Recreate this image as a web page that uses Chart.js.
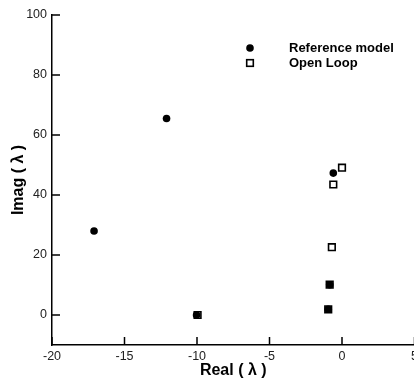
<!DOCTYPE html>
<html>
<head>
<meta charset="utf-8">
<script src="https://cdn.jsdelivr.net/npm/chart.js@4"></script>
<style>
  html, body { margin: 0; padding: 0; background: #fff; overflow: hidden; }
  #wrap { width: 430px; height: 380px; }
</style>
</head>
<body>
<div id="wrap"><canvas id="chart" width="430" height="380"></canvas></div>
<script>
// valeurs
const refReal = [-17.1, -12.1, -0.6, -10.03, -0.85, -0.95];
const refImag = [28, 65.5, 47.3, 0, 10.1, 1.9];
const olReal = [0, -0.6, -0.7, -9.96, -0.85, -0.95];
const olImag = [49.1, 43.5, 22.6, 0, 10.1, 1.9];
const xTicks = [-20, -15, -10, -5, 0, 5];
const yTicks = [0, 20, 40, 60, 80, 100];
const seriesNames = ['Reference model', 'Open Loop'];

const toPoints = (xs, ys) => xs.map((x, i) => ({ x: x, y: ys[i] }));

// ticks vers l'interieur + legende
const extras = {
  id: 'extras',
  afterDraw(chart) {
    const ctx = chart.ctx;
    const xs = chart.scales.x, ys = chart.scales.y;
    const a = chart.chartArea;
    ctx.save();
    ctx.strokeStyle = '#000';
    ctx.lineWidth = 1.5;
    ctx.beginPath();
    xTicks.forEach(v => {
      const px = xs.getPixelForValue(v);
      ctx.moveTo(px, a.bottom);
      ctx.lineTo(px, a.bottom - 8);
    });
    yTicks.forEach(v => {
      const py = ys.getPixelForValue(v);
      ctx.moveTo(a.left, py);
      ctx.lineTo(a.left + 8, py);
    });
    ctx.stroke();

    // legende
    const lx = 250, ly = [48, 63];
    ctx.fillStyle = '#000';
    ctx.beginPath();
    ctx.arc(lx, ly[0], 3.8, 0, Math.PI * 2);
    ctx.fill();
    ctx.lineWidth = 1.6;
    ctx.strokeRect(lx - 3.3, ly[1] - 3.3, 6.6, 6.6);
    ctx.font = 'bold 13px "Liberation Sans", Arial, sans-serif';
    ctx.textBaseline = 'middle';
    ctx.textAlign = 'left';
    ctx.fillText(seriesNames[0], 289, ly[0]);
    ctx.fillText(seriesNames[1], 289, ly[1]);
    ctx.restore();
  }
};

const ctx = document.getElementById('chart').getContext('2d');
const myChart = new Chart(ctx, {
  type: 'scatter',
  data: {
    datasets: [{
      label: seriesNames[0],
      data: toPoints(refReal, refImag),
      pointStyle: 'circle',
      pointRadius: 3.8,
      backgroundColor: '#000',
      borderColor: '#000',
      borderWidth: 0
    }, {
      label: seriesNames[1],
      data: toPoints(olReal, olImag),
      pointStyle: 'rect',
      pointRadius: 4.7,
      backgroundColor: 'rgba(0,0,0,0)',
      borderColor: '#000',
      borderWidth: 1.6
    }]
  },
  options: {
    responsive: false,
    animation: false,
    clip: false,
    layout: { padding: { left: 0, right: 15.5, top: 15, bottom: 0 } },
    plugins: {
      legend: { display: false },
      tooltip: { enabled: false }
    },
    scales: {
      x: {
        type: 'linear',
        min: -20,
        max: 5,
        afterBuildTicks: s => { s.ticks = xTicks.map(v => ({ value: v })); },
        afterFit: s => { s.height = 35; },
        grid: { display: false, drawTicks: false },
        border: { display: true, color: '#000', width: 1.5 },
        ticks: {
          color: '#222',
          padding: 4,
          maxRotation: 0,
          font: { family: '"Liberation Sans", Arial, sans-serif', size: 12.5 }
        },
        title: {
          display: true,
          text: 'Real ( λ )',
          color: '#000',
          padding: { top: -4, bottom: 0 },
          font: { family: '"Liberation Sans", Arial, sans-serif', size: 16, weight: 'bold' }
        }
      },
      y: {
        type: 'linear',
        min: -10,
        max: 100,
        afterBuildTicks: s => { s.ticks = yTicks.map(v => ({ value: v })); },
        afterFit: s => { s.width = 52; },
        grid: { display: false, drawTicks: false },
        border: { display: true, color: '#000', width: 1.5 },
        ticks: {
          color: '#222',
          padding: 5,
          font: { family: '"Liberation Sans", Arial, sans-serif', size: 12.5 }
        },
        title: {
          display: true,
          text: 'Imag ( λ )',
          color: '#000',
          padding: { top: 9, bottom: 0 },
          font: { family: '"Liberation Sans", Arial, sans-serif', size: 16, weight: 'bold' }
        }
      }
    }
  },
  plugins: [extras]
});
</script>
</body>
</html>
